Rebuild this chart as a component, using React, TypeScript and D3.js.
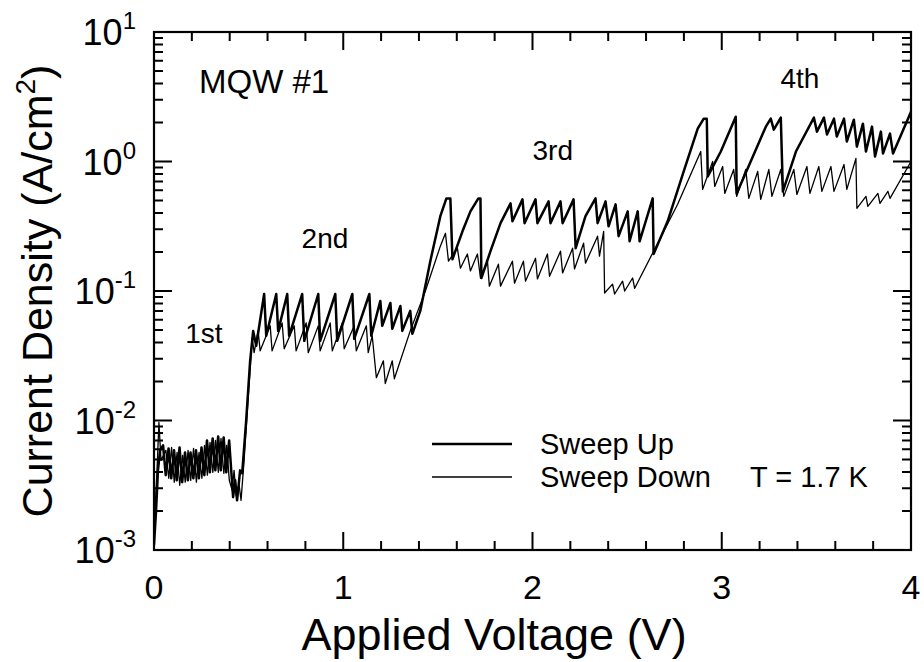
import React from "react";
import * as d3 from "d3";

// ---- Data ----
const upV = [
  0.000, 0.011, 0.021, 0.032,
  0.048, 0.062, 0.077, 0.091, 0.106, 0.120, 0.135, 0.149, 0.164, 0.179, 0.193, 0.208, 0.222, 0.237,
  0.251, 0.266, 0.280, 0.295, 0.310, 0.324, 0.339, 0.353, 0.368, 0.382, 0.397, 0.411,
  0.418, 0.429, 0.439, 0.455, 0.466, 0.487, 0.508, 0.524, 0.540, 0.582,
  0.593, 0.646, 0.656, 0.704, 0.714, 0.783, 0.794, 0.868, 0.878, 0.958, 0.968, 1.048, 1.058, 1.138, 1.148,
  1.196, 1.206, 1.249, 1.259, 1.302, 1.312, 1.354, 1.365,
  1.407, 1.460, 1.513, 1.545, 1.566, 1.577,
  1.630, 1.672, 1.714, 1.725, 1.730, 1.778, 1.831, 1.884, 1.894, 1.947, 1.958, 2.016, 2.026, 2.085, 2.095,
  2.148, 2.159, 2.217, 2.228, 2.280, 2.333, 2.344, 2.386, 2.402, 2.439, 2.455, 2.503, 2.513, 2.556, 2.566,
  2.635, 2.640,
  2.714, 2.799, 2.873, 2.905, 2.921, 2.926, 2.995, 3.074, 3.079, 3.153, 3.233, 3.259, 3.275, 3.312, 3.323,
  3.392, 3.487,
  3.503, 3.540, 3.556, 3.593, 3.608, 3.646, 3.661, 3.698, 3.714, 3.746, 3.762, 3.794, 3.810, 3.841, 3.852,
  3.889, 3.905, 4.000,
];
const upJ = [
  0.00109, 0.00203, 0.00412, 0.00588,
  0.00642, 0.00378, 0.00609, 0.00358, 0.00588, 0.00345, 0.00620, 0.00334, 0.00567, 0.00345, 0.00567, 0.00358, 0.00588, 0.00358,
  0.00620, 0.00378, 0.00702, 0.00398, 0.00727, 0.00412, 0.00753, 0.00412, 0.00740, 0.00398, 0.00702, 0.00358,
  0.00256, 0.00345, 0.00242, 0.00412, 0.00391, 0.0100, 0.0289, 0.0492, 0.0378, 0.0948,
  0.0451, 0.0948, 0.0492, 0.0948, 0.0451, 0.0948, 0.0412, 0.0948, 0.0412, 0.0948, 0.0412, 0.0948, 0.0427, 0.0948, 0.0451,
  0.0838, 0.0538, 0.0809, 0.0510, 0.0767, 0.0492, 0.0702, 0.0467,
  0.0702, 0.170, 0.378, 0.519, 0.519, 0.176,
  0.289, 0.412, 0.519, 0.519, 0.126, 0.203, 0.334, 0.475, 0.345, 0.510, 0.334, 0.510, 0.334, 0.492, 0.334,
  0.492, 0.334, 0.510, 0.214, 0.378, 0.519, 0.334, 0.492, 0.316, 0.467, 0.265, 0.412, 0.242, 0.412, 0.242,
  0.519, 0.193,
  0.345, 0.838, 1.794, 2.142, 2.142, 0.767, 1.194, 2.219, 0.567, 1.0, 1.859, 2.142, 1.763, 2.181, 0.588,
  1.194, 2.181,
  1.701, 2.181, 1.613, 2.142, 1.557, 2.142, 1.425, 2.104, 1.304, 1.960, 1.194, 1.859, 1.093, 1.701, 1.152,
  1.642, 1.152, 2.42,
];

const downV = [
  0.000, 0.016, 0.026, 0.037,
  0.063, 0.078, 0.093, 0.107, 0.122, 0.136, 0.151, 0.165, 0.180, 0.194, 0.209, 0.224, 0.238, 0.253,
  0.267, 0.282, 0.296, 0.311, 0.325, 0.340, 0.354, 0.369, 0.384, 0.398,
  0.413, 0.423, 0.434, 0.450, 0.460, 0.476, 0.497, 0.519,
  0.529, 0.550, 0.561, 0.614, 0.624, 0.677, 0.688, 0.741, 0.751, 0.804, 0.815, 0.868, 0.878, 0.931, 0.942,
  0.995, 1.005, 1.058, 1.069, 1.122, 1.132, 1.153,
  1.175, 1.212, 1.222, 1.259, 1.270,
  1.354, 1.434, 1.513, 1.540, 1.556, 1.603, 1.619, 1.656, 1.672, 1.709, 1.725,
  1.762, 1.772, 1.820, 1.831, 1.894, 1.905, 1.952, 1.963, 2.016, 2.026, 2.079, 2.090, 2.148, 2.159,
  2.212, 2.222, 2.270, 2.280, 2.344, 2.354, 2.376, 2.381,
  2.423, 2.434, 2.476, 2.487, 2.529, 2.540,
  2.640, 2.767, 2.889, 2.899, 2.952, 2.963, 3.005, 3.016, 3.063, 3.079, 3.127, 3.143, 3.190, 3.206,
  3.249, 3.265, 3.312, 3.328, 3.381, 3.397, 3.450, 3.466, 3.513, 3.529, 3.577, 3.593, 3.646, 3.661,
  3.709, 3.714, 3.762, 3.772, 3.825, 3.836, 3.878, 3.889, 4.000,
];
const downJ = [
  0.00143, 0.00412, 0.00965, 0.00492,
  0.00588, 0.00358, 0.00620, 0.00334, 0.00567, 0.00316, 0.00538, 0.00334, 0.00588, 0.00345, 0.00609, 0.00334, 0.00567, 0.00358,
  0.00642, 0.00378, 0.00677, 0.00398, 0.00702, 0.00398, 0.00727, 0.00391, 0.00642, 0.00345,
  0.00289, 0.00412, 0.00265, 0.00316, 0.00242, 0.00492, 0.0143, 0.0435,
  0.0334, 0.0492, 0.0345, 0.0538, 0.0345, 0.0567, 0.0358, 0.0538, 0.0345, 0.0567, 0.0334, 0.0538, 0.0345, 0.0567, 0.0345,
  0.0567, 0.0358, 0.0538, 0.0345, 0.0538, 0.0334, 0.0451,
  0.0214, 0.0289, 0.0193, 0.0289, 0.0210,
  0.0492, 0.100, 0.222, 0.279, 0.170, 0.214, 0.150, 0.193, 0.143, 0.193, 0.126,
  0.170, 0.109, 0.161, 0.109, 0.170, 0.115, 0.170, 0.119, 0.179, 0.124, 0.193, 0.130, 0.203, 0.138,
  0.214, 0.148, 0.234, 0.164, 0.265, 0.186, 0.289, 0.0965,
  0.113, 0.0948, 0.119, 0.100, 0.126, 0.105,
  0.203, 0.467, 1.194, 0.609, 1.0, 0.642, 0.915, 0.567, 0.868, 0.538, 0.868, 0.519, 0.838, 0.510,
  0.868, 0.538, 0.868, 0.538, 0.868, 0.557, 0.915, 0.567, 0.915, 0.588, 0.915, 0.588, 0.948, 0.609,
  1.055, 0.435, 0.538, 0.451, 0.567, 0.475, 0.588, 0.519, 1.0,
];

const xTickValues = [0, 1, 2, 3, 4];
const xTickLabels = ["0", "1", "2", "3", "4"];
const yTickExponents = [-3, -2, -1, 0, 1];
const yTickLabels = ["-3", "-2", "-1", "0", "1"];

const legendLabels = ["Sweep Up", "Sweep Down"];
const ordinalLabels = ["1st", "2nd", "3rd", "4th"];
const ordinalV = [0.165, 0.78, 2.0, 3.31];
const ordinalJ = [0.04, 0.215, 1.03, 3.69];

// ---- Layout ----
const W = 924;
const H = 662;
const L = 154, R = 911, T = 32, B = 550;
const FONT = "'Liberation Sans', Arial, Helvetica, sans-serif";

export default function App() {
  const x = d3.scaleLinear().domain([0, 4]).range([L, R]);
  const y = d3.scaleLog().domain([1e-3, 10]).range([B, T]);
  const line = d3
    .line<[number, number]>()
    .x((d) => x(d[0]))
    .y((d) => y(d[1]));

  const up: [number, number][] = upV.map((v, i) => [v, upJ[i]]);
  const down: [number, number][] = downV.map((v, i) => [v, downJ[i]]);

  const xMinor = d3.range(1, 20).map((k) => k * 0.2).filter((v) => Math.abs(v - Math.round(v)) > 1e-6);
  const yMinor: number[] = [];
  for (let e = -3; e < 1; e++) for (let m = 2; m <= 9; m++) yMinor.push(m * Math.pow(10, e));

  const majLen = 18;
  const minLen = 9;

  let tickD = "";
  xTickValues.forEach((v) => {
    const px = x(v);
    tickD += `M${px},${B}V${B - majLen}M${px},${T}V${T + majLen}`;
  });
  xMinor.forEach((v) => {
    const px = x(v);
    tickD += `M${px},${B}V${B - minLen}M${px},${T}V${T + minLen}`;
  });
  yTickExponents.forEach((e) => {
    const py = y(Math.pow(10, e));
    tickD += `M${L},${py}H${L + majLen}M${R},${py}H${R - majLen}`;
  });
  yMinor.forEach((v) => {
    const py = y(v);
    tickD += `M${L},${py}H${L + minLen}M${R},${py}H${R - minLen}`;
  });

  return (
    <svg
      width={W}
      height={H}
      style={{ position: "absolute", left: 0, top: 0, background: "#fff" }}
      fontFamily={FONT}
    >
      <rect x={0} y={0} width={W} height={H} fill="#fff" />
      <defs>
        <clipPath id="plotclip">
          <rect x={L} y={T} width={R - L} height={B - T} />
        </clipPath>
      </defs>

      {/* data */}
      <g clipPath="url(#plotclip)" fill="none" stroke="#000" strokeLinejoin="round">
        <path d={line(down) || ""} strokeWidth={1.3} />
        <path d={line(up) || ""} strokeWidth={2.5} />
      </g>

      {/* frame */}
      <rect x={L} y={T} width={R - L} height={B - T} fill="none" stroke="#000" strokeWidth={2.2} />

      {/* ticks */}
      <path d={tickD} fill="none" stroke="#000" strokeWidth={2} />

      {/* x tick labels */}
      {xTickValues.map((v, i) => (
        <text key={"xl" + v} x={x(v)} y={599} fontSize={34} textAnchor="middle" fill="#000">
          {xTickLabels[i]}
        </text>
      ))}

      {/* y tick labels */}
      {yTickExponents.map((e, i) => (
        <text key={"yl" + e} x={136} y={y(Math.pow(10, e)) + 13} fontSize={36} textAnchor="end" fill="#000">
          10
          <tspan fontSize={24} dy={-16}>
            {yTickLabels[i]}
          </tspan>
        </text>
      ))}

      {/* axis titles */}
      <text x={494} y={650} fontSize={45} textAnchor="middle" fill="#000">
        Applied Voltage (V)
      </text>
      <text
        transform={`translate(52, ${(T + B) / 2}) rotate(-90)`}
        fontSize={43}
        textAnchor="middle"
        fill="#000"
      >
        Current Density (A/cm
        <tspan fontSize={28} dy={-17}>2</tspan>
        <tspan dy={17}>)</tspan>
      </text>

      {/* annotations */}
      <text x={199} y={93} fontSize={33} fill="#000">
        MQW #1
      </text>
      {ordinalLabels.map((t, i) => (
        <text key={t} x={x(ordinalV[i])} y={y(ordinalJ[i])} fontSize={28} fill="#000">
          {t}
        </text>
      ))}

      {/* legend */}
      <line x1={432} x2={512} y1={444} y2={444} stroke="#000" strokeWidth={2.5} />
      <line x1={432} x2={512} y1={477} y2={477} stroke="#000" strokeWidth={1.3} />
      <text x={540} y={454} fontSize={29} fill="#000">
        {legendLabels[0]}
      </text>
      <text x={540} y={487} fontSize={29} fill="#000">
        {legendLabels[1]}
      </text>
      <text x={750} y={487} fontSize={29} fill="#000">
        T = 1.7 K
      </text>
    </svg>
  );
}
